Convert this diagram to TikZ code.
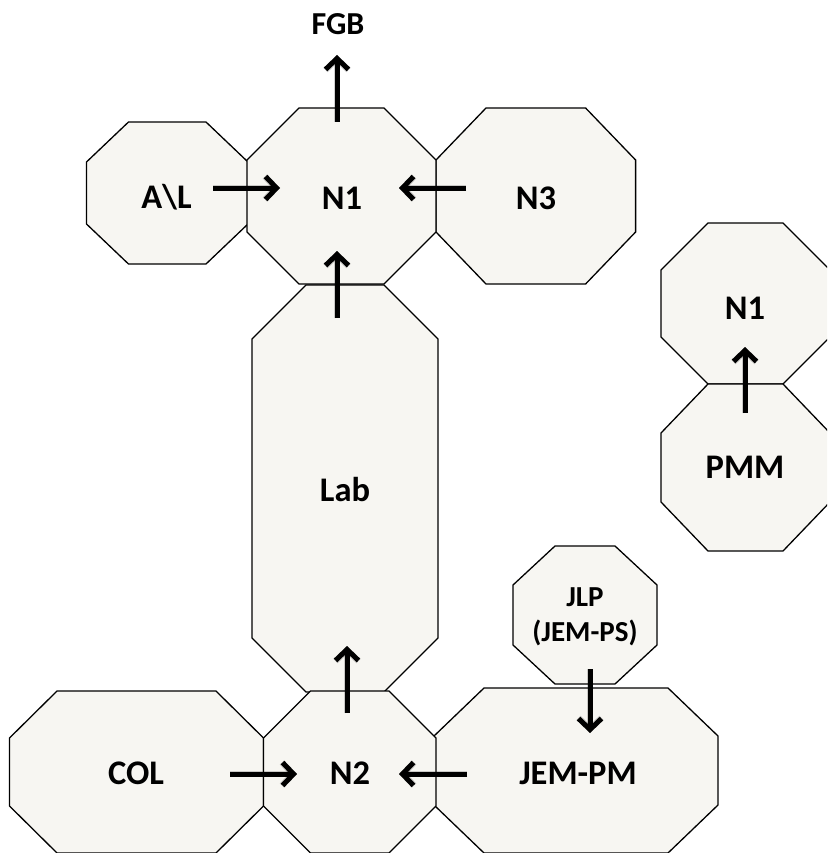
\documentclass[tikz,border=0pt]{standalone}
\usepackage{fontspec}
\setmainfont{Carlito}
\usetikzlibrary{arrows.meta}
\definecolor{octfill}{RGB}{247,246,242}
\newcommand\myoct[6]{%
  \filldraw[octbox] ({#1+#5},{#2}) -- ({#3-#5},{#2}) -- ({#3},{#2+#6}) -- ({#3},{#4-#6})
    -- ({#3-#5},{#4}) -- ({#1+#5},{#4}) -- ({#1},{#4-#6}) -- ({#1},{#2+#6}) -- cycle;}
\tikzset{
  octbox/.style={fill=octfill, draw=black, line width=1.3pt, line join=miter},
  lbl/.style={font=\bfseries\fontsize{34.5}{40}\selectfont, inner sep=0pt},
  lbltop/.style={font=\bfseries\fontsize{32}{38}\selectfont, inner sep=0pt},
  lblsmall/.style={font=\bfseries\fontsize{29}{35}\selectfont, inner sep=0pt},
  flow/.style={line width=5pt, -{Straight Barb[length=11pt,width=23pt,line width=5pt]}},
  flowshadow/.style={line width=6pt, draw=black, opacity=0.18, -{Straight Barb[length=11pt,width=23pt,line width=6pt]}, shift={(2.5,3)}},
}
\begin{document}
\begin{tikzpicture}[x=1pt,y=-1pt]
\useasboundingbox (0,0) rectangle (827,853);
\clip (0,0) rectangle (827,853);
% octagons
\myoct{86.5}{122}{248}{264}{42}{40}
\myoct{436}{108}{635.6}{284}{50}{52}
\myoct{247}{108}{436}{284}{52}{52}
\myoct{252}{285}{438}{692}{54}{54}
\myoct{9.5}{691}{263.5}{853}{47.5}{47}
\myoct{434}{688}{718}{853}{50}{48}
\myoct{263.5}{691}{436}{853}{47}{47}
\myoct{513}{546}{657}{684}{42}{39}
\myoct{661}{223}{830}{384}{47}{47}
\myoct{661}{384}{830}{551}{47}{49}
% labels
\node[lbltop] (fgb) at (338,24) {FGB};
\node[lbl] (al) at (166.5,197) {A\textbackslash L};
\node[lbl] (n1) at (342,198) {N1};
\node[lbl] (n3) at (536,198) {N3};
\node[lbl] (lab) at (345,490) {Lab};
\node[lbl] (col) at (136,773) {COL};
\node[lbl] (n2) at (350,773) {N2};
\node[lbl] (jempm) at (578,773) {JEM-PM};
\node[lblsmall, align=center] (jlp) at (585,617) {JLP\\(JEM-PS)};
\node[lbl] (n1r) at (745,308) {N1};
\node[lbl] (pmm) at (745,467) {PMM};
% arrow end points
\coordinate (fgbS) at (337,122);  \coordinate (fgbE) at (337,55);
\coordinate (alS) at (213,188);   \coordinate (alE) at (280,188);
\coordinate (n3S) at (466,188);   \coordinate (n3E) at (399,188);
\coordinate (labS) at (337,318);  \coordinate (labE) at (337,251);
\coordinate (n2S) at (347,713);   \coordinate (n2E) at (347,646);
\coordinate (colS) at (230,774);  \coordinate (colE) at (297,774);
\coordinate (jemS) at (467,774);  \coordinate (jemE) at (399,774);
\coordinate (jlpS) at (590,669);  \coordinate (jlpE) at (590,733);
\coordinate (pmmS) at (745,413);  \coordinate (pmmE) at (745,347);
% shadows
\foreach \s/\e in {fgbS/fgbE,alS/alE,n3S/n3E,labS/labE,n2S/n2E,colS/colE,jemS/jemE,jlpS/jlpE,pmmS/pmmE}
  \draw[flowshadow] (\s) -- (\e);
% arrows
\foreach \s/\e in {fgbS/fgbE,alS/alE,n3S/n3E,labS/labE,n2S/n2E,colS/colE,jemS/jemE,jlpS/jlpE,pmmS/pmmE}
  \draw[flow] (\s) -- (\e);
\end{tikzpicture}
\end{document}
